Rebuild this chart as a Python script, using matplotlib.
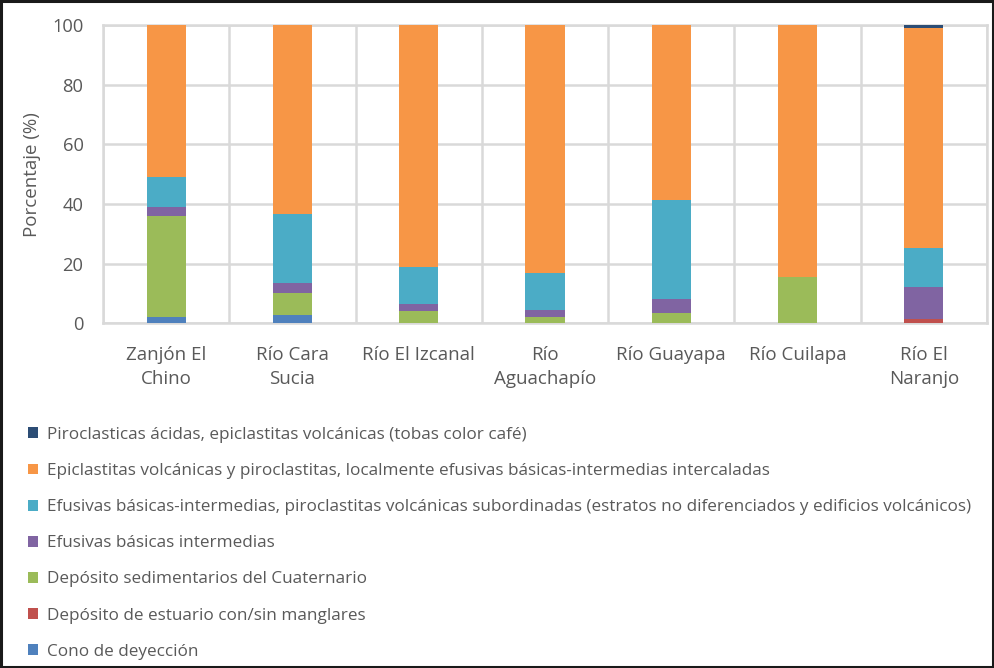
import matplotlib
matplotlib.use("Agg")
import matplotlib.pyplot as plt
from matplotlib.patches import Rectangle, Patch
import numpy as np

categories = ["Zanjón El\nChino", "Río Cara\nSucia", "Río El Izcanal", "Río\nAguachapío",
              "Río Guayapa", "Río Cuilapa", "Río El\nNaranjo"]

series_names = [
    "Cono de deyección",
    "Depósito de estuario con/sin manglares",
    "Depósito sedimentarios del Cuaternario",
    "Efusivas básicas intermedias",
    "Efusivas básicas-intermedias, piroclastitas volcánicas subordinadas (estratos no diferenciados y edificios volcánicos)",
    "Epiclastitas volcánicas y piroclastitas, localmente efusivas básicas-intermedias intercaladas",
    "Piroclasticas ácidas, epiclastitas volcánicas (tobas color café)",
]
cono = [2.2, 2.9, 0.0, 0.0, 0.0, 0.0, 0.0]
estuario = [0.0, 0.0, 0.0, 0.0, 0.0, 0.0, 1.3]
cuaternario = [33.7, 7.2, 4.2, 2.1, 3.4, 15.4, 0.0]
efusivas_bi = [3.2, 3.3, 2.3, 2.4, 4.8, 0.0, 10.8]
efusivas_pir = [10.0, 23.4, 12.4, 12.4, 33.3, 0.0, 13.1]
epiclastitas = [50.9, 63.2, 81.1, 83.1, 58.5, 84.6, 73.8]
piroclasticas = [0.0, 0.0, 0.0, 0.0, 0.0, 0.0, 1.0]
series_values = [cono, estuario, cuaternario, efusivas_bi, efusivas_pir, epiclastitas, piroclasticas]
colors = ["#4F81BD", "#C0504D", "#9BBB59", "#8064A2", "#4BACC6", "#F79646", "#2C4D75"]

yticks = [0, 20, 40, 60, 80, 100]

plt.rcParams['font.family'] = ['Open Sans', 'DejaVu Sans']
W, H = 995, 668
fig = plt.figure(figsize=(W / 100, H / 100), dpi=100)
ax = fig.add_axes([103 / W, 1 - 323.3 / H, (987 - 103) / W, (323.3 - 25) / H])

x = np.arange(len(categories))
bottom = np.zeros(len(categories))
handles = []
for name, vals, c in zip(series_names, series_values, colors):
    v = np.array(vals)
    ax.bar(x, v, width=0.31, bottom=bottom, color=c, zorder=3, linewidth=0)
    bottom += v
    handles.append(Patch(facecolor=c, label=name))

ax.set_xlim(-0.5, len(categories) - 0.5)
ax.set_ylim(0, 100)
ax.set_yticks(yticks)
ax.set_xticks(x)
ax.set_xticklabels(categories, fontsize=13.5, color="#595959", linespacing=1.45, va="top")
ax.tick_params(axis='y', labelsize=13.2, labelcolor="#595959", length=0, pad=14)
ax.tick_params(axis='x', length=0, pad=16)
ax.yaxis.grid(True, color="#D9D9D9", linewidth=1.8, zorder=0)
ax.set_xticks(np.arange(-0.5, len(categories)), minor=True)
ax.xaxis.grid(True, which='minor', color="#D9D9D9", linewidth=1.8, zorder=0)
ax.tick_params(axis='x', which='minor', length=0)
for s in ax.spines.values():
    s.set_color("#D9D9D9")
    s.set_linewidth(1.8)
ax.set_ylabel("Porcentaje (%)", fontsize=13.5, color="#595959", labelpad=8)

leg = fig.legend(handles=handles[::-1], loc="upper left", bbox_to_anchor=(21 / W, 1 - 420 / H),
                 frameon=False, fontsize=12.3, labelcolor="#595959", handlelength=0.6,
                 handleheight=0.6, handletextpad=0.5, labelspacing=1.18, borderaxespad=0)

fig.patches.append(Rectangle((0.001, 0.001), 0.997, 0.997, transform=fig.transFigure,
                             fill=False, edgecolor="#1a1a1a", linewidth=2.2))

fig.savefig("out.png", dpi=100)
